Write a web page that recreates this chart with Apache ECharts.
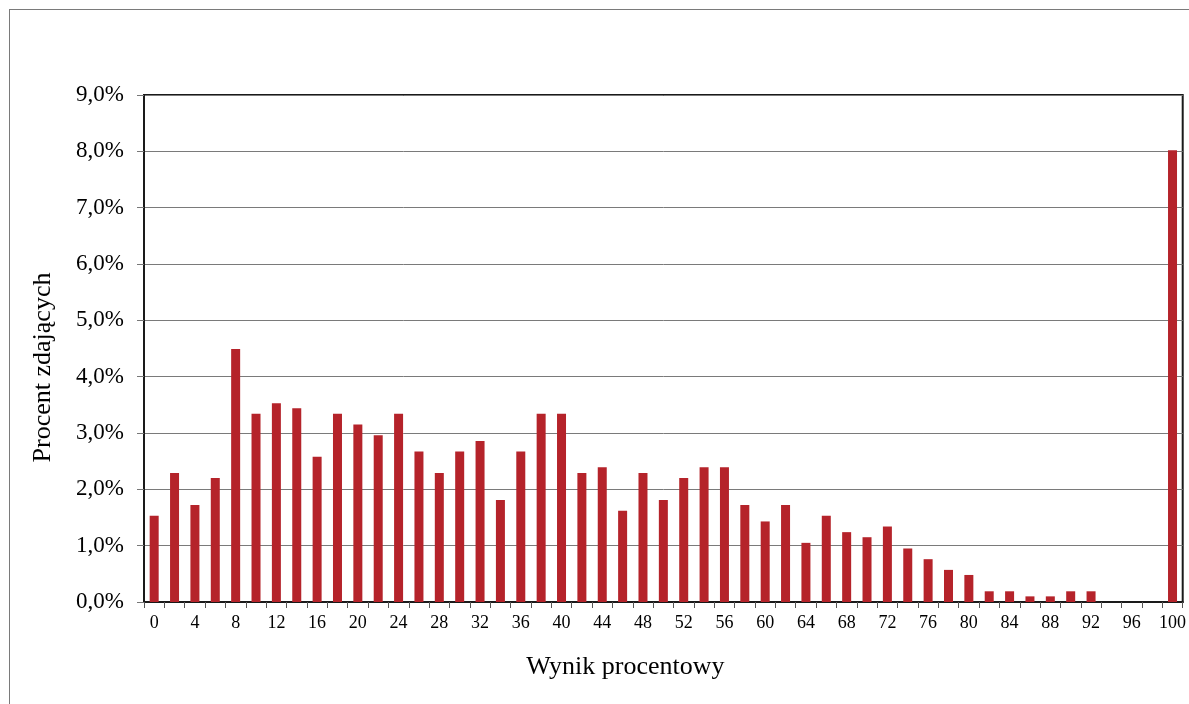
<!DOCTYPE html>
<html>
<head>
<meta charset="utf-8">
<script src="https://cdn.jsdelivr.net/npm/echarts@6/dist/echarts.min.js"></script>
<style>
  html, body { margin: 0; padding: 0; background: #fff; }
  #frame { position: absolute; left: 9px; top: 9px; width: 1180px; height: 695px;
           border-top: 1px solid #7a7a7a; border-left: 1px solid #7a7a7a; box-sizing: border-box; }
  #chart { position: absolute; left: 0; top: 0; width: 1189px; height: 704px; }
</style>
</head>
<body>
<div id="frame"></div>
<div id="chart"></div>
<script>
// Categories: percentage score 0..100 step 2
const categories = ['0','2','4','6','8','10','12','14','16','18','20','22','24','26','28','30','32','34','36','38','40',
  '42','44','46','48','50','52','54','56','58','60','62','64','66','68','70','72','74','76','78','80',
  '82','84','86','88','90','92','94','96','98','100'];
// Percent of test takers (%)
const values = [1.53, 2.29, 1.72, 2.20, 4.49, 3.34, 3.53, 3.44, 2.58, 3.34, 3.15, 2.96, 3.34, 2.67, 2.29,
  2.67, 2.86, 1.81, 2.67, 3.34, 3.34, 2.29, 2.39, 1.62, 2.29, 1.81, 2.20, 2.39, 2.39, 1.72, 1.43,
  1.72, 1.05, 1.53, 1.24, 1.15, 1.34, 0.95, 0.76, 0.57, 0.48, 0.19, 0.19, 0.10, 0.10, 0.19, 0.19,
  0, 0, 0, 8.02];
const yTitle = 'Procent zdających';
const xTitle = 'Wynik procentowy';

const chart = echarts.init(document.getElementById('chart'));
const serif = '"Liberation Serif", "Times New Roman", serif';
chart.setOption({
  animation: false,
  grid: { left: 144, right: 4, top: 95, bottom: 102, show: true, borderColor: '#1a1a1a', borderWidth: 2 },
  xAxis: {
    type: 'category',
    data: categories,
    boundaryGap: true,
    axisLine: { lineStyle: { color: '#1a1a1a', width: 2 } },
    axisTick: { show: true, interval: 0, length: 6, lineStyle: { color: '#555', width: 1 } },
    axisLabel: { interval: 1, fontFamily: serif, fontSize: 18, color: '#000', margin: 12 },
    name: xTitle, nameLocation: 'middle', nameGap: 52,
    nameTextStyle: { fontFamily: serif, fontSize: 26, color: '#000', padding: [0, 76, 0, 0] }
  },
  yAxis: {
    type: 'value', min: 0, max: 9, interval: 1,
    axisLine: { show: true, lineStyle: { color: '#1a1a1a', width: 2 } },
    axisTick: { show: true, length: 7, lineStyle: { color: '#777', width: 1 } },
    splitLine: { lineStyle: { color: '#7a7a7a', width: 1 } },
    axisLabel: { fontFamily: serif, fontSize: 23, color: '#000', margin: 20,
      formatter: v => v.toFixed(1).replace('.', ',') + '%' },
    name: yTitle, nameLocation: 'middle', nameGap: 88, nameRotate: 90,
    nameTextStyle: { fontFamily: serif, fontSize: 26, color: '#000', padding: [0, 38, 0, 0] }
  },
  series: [{
    type: 'bar',
    data: values,
    barWidth: 9,
    itemStyle: { color: '#b5232a' }
  }]
});
</script>
</body>
</html>
